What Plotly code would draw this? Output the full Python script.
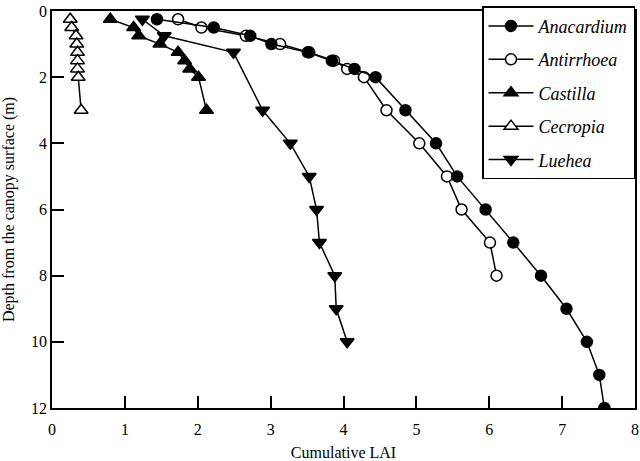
import plotly.graph_objects as go

# Data (x = cumulative LAI, y = depth in m)
anacardium_depth = [0.25, 0.5, 0.75, 1, 1.25, 1.5, 1.75, 2, 3, 4, 5, 6, 7, 8, 9, 10, 11, 12]
anacardium_lai = [1.44, 2.22, 2.72, 3.01, 3.51, 3.84, 4.15, 4.44, 4.85, 5.27, 5.56, 5.95, 6.33, 6.71, 7.06, 7.34, 7.51, 7.58]

antirrhoea_depth = [0.25, 0.5, 0.75, 1, 1.25, 1.5, 1.75, 2, 3, 4, 5, 6, 7, 8]
antirrhoea_lai = [1.73, 2.05, 2.66, 3.13, 3.53, 3.87, 4.05, 4.28, 4.59, 5.04, 5.42, 5.62, 6.01, 6.10]

castilla_depth = [0.25, 0.5, 0.75, 1, 1.25, 1.5, 1.75, 2, 3]
castilla_lai = [0.80, 1.12, 1.19, 1.48, 1.73, 1.82, 1.89, 2.01, 2.12]

cecropia_depth = [0.25, 0.5, 0.75, 1, 1.25, 1.5, 1.75, 2, 3]
cecropia_lai = [0.25, 0.27, 0.33, 0.34, 0.35, 0.35, 0.35, 0.36, 0.40]

luehea_depth = [0.25, 0.75, 1.25, 3, 4, 5, 6, 7, 8, 9, 10]
luehea_lai = [1.24, 1.54, 2.49, 2.89, 3.27, 3.53, 3.63, 3.67, 3.88, 3.90, 4.05]

x_ticks = [0, 1, 2, 3, 4, 5, 6, 7, 8]
y_ticks = [0, 2, 4, 6, 8, 10, 12]

FONT = "Liberation Serif"

series = [
    # name, x, y, symbol, fill, rank, size
    ("Antirrhoea", antirrhoea_lai, antirrhoea_depth, "circle", "white", 2, 11),
    ("Anacardium", anacardium_lai, anacardium_depth, "circle", "black", 1, 11),
    ("Castilla", castilla_lai, castilla_depth, "triangle-up", "black", 3, 12),
    ("Cecropia", cecropia_lai, cecropia_depth, "triangle-up", "white", 4, 12),
    ("Luehea", luehea_lai, luehea_depth, "triangle-down", "black", 5, 12),
]

fig = go.Figure()
for name, xs, ys, sym, fill, rank, size in series:
    fig.add_trace(go.Scatter(
        x=xs, y=ys, name=name, mode="lines+markers",
        line=dict(color="black", width=1.5),
        marker=dict(symbol=sym, size=size, color=fill,
                    line=dict(color="black", width=1.5)),
        legendrank=rank, legendgroup=name,
    ))

axis_common = dict(
    showgrid=False, zeroline=False, showline=True, linecolor="black",
    linewidth=1.5, mirror=True, ticks="inside", ticklen=12, tickwidth=1.5,
    tickcolor="black", tickfont=dict(family=FONT, size=16, color="black"),
    ticklabeloverflow="allow",
)

fig.update_xaxes(range=[0, 8], tickvals=x_ticks, automargin=False, ticklabelstandoff=6,
                 title=dict(text="Cumulative LAI", font=dict(family=FONT, size=16, color="black")),
                 **axis_common)
fig.update_yaxes(range=[12, 0], tickvals=y_ticks, automargin=True,
                 title=dict(text="Depth from the canopy surface (m)", font=dict(family=FONT, size=16, color="black"), standoff=15),
                 **axis_common)

fig.update_layout(
    width=640, height=461,
    margin=dict(l=52, r=3, t=5, b=53),
    paper_bgcolor="white", plot_bgcolor="white",
    font=dict(family=FONT),
    showlegend=True,
    legend=dict(
        x=1, xanchor="right", y=1.012, yanchor="top",
        bgcolor="white", bordercolor="black", borderwidth=1.5,
        font=dict(family=FONT, size=18, color="black", style="italic"),
        tracegroupgap=7, traceorder="grouped", itemwidth=45,
    ),
)

fig.write_html("out.html", config={"displayModeBar": False},
               post_script="document.body.style.margin='0';document.body.style.padding='0';")
